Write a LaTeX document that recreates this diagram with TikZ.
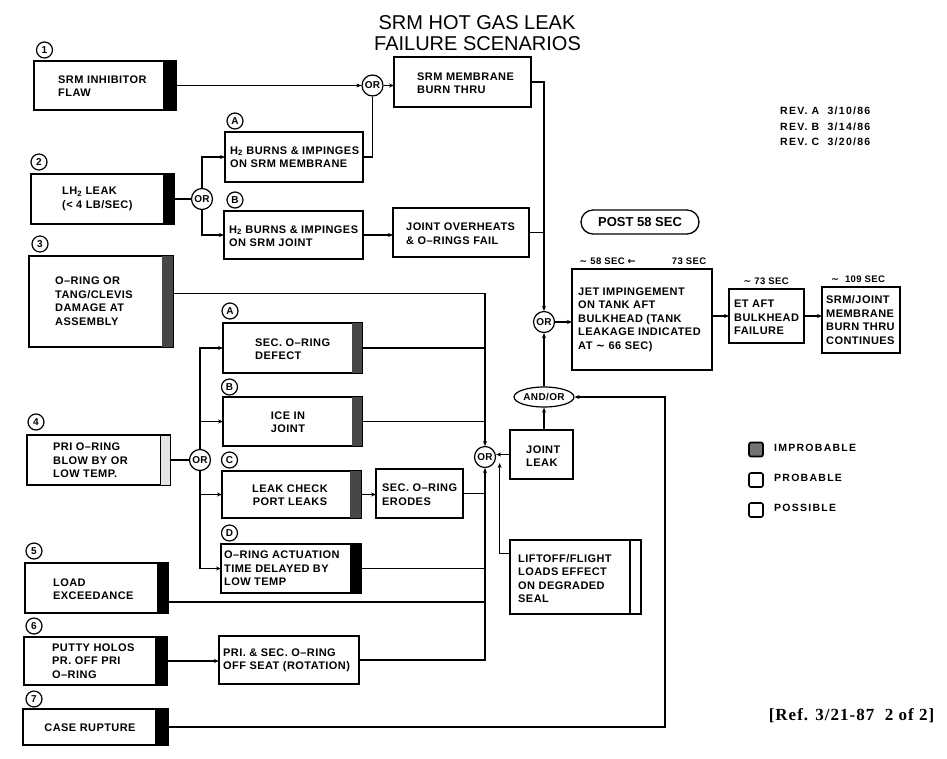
\documentclass[tikz,border=0pt]{standalone}
\usepackage{fontspec}
\setmainfont{Liberation Sans}
\newfontfamily\boxfont[LetterSpace=4,Ligatures=TeX]{Liberation Sans}
\newfontfamily\widefont[LetterSpace=12,Ligatures=TeX]{Liberation Sans}
\newfontfamily\reffont[LetterSpace=6,Ligatures=TeX]{Liberation Serif}
\newfontfamily\symfont{DejaVu Sans}
\newcommand\myapprox{{\symfont ∼}}
\usetikzlibrary{arrows.meta,shapes.geometric,calc,fit}
\begin{document}
\begin{tikzpicture}[x=1pt,y=-1pt,
  box/.style={draw, line width=1.3pt, inner sep=0pt, outer sep=0pt},
  blackbar/.style={fill=black},
  speckbar/.style={fill=black!72},
  lightbar/.style={draw, line width=1pt, fill=black!10},
  txt/.style={font=\boxfont\bfseries\fontsize{11}{13.5}\selectfont, align=left, inner sep=0pt, anchor=west},
  ctxt/.style={font=\boxfont\bfseries\fontsize{11}{13.5}\selectfont, align=center, inner sep=0pt},
  lab/.style={circle, draw, line width=1.2pt, inner sep=0pt, minimum size=16pt, font=\bfseries\fontsize{10}{10}\selectfont},
  gate/.style={circle, draw, line width=1.2pt, inner sep=0pt, minimum size=21pt, font=\boxfont\bfseries\fontsize{10}{10}\selectfont},
  conn/.style={line width=1.1pt},
  arr/.style={line width=1.1pt, -{Stealth[length=5pt,width=4pt]}},
  timelab/.style={font=\boxfont\bfseries\fontsize{9.5}{11}\selectfont, inner sep=0pt},
  legbox/.style={draw, line width=1.6pt, rounded corners=2pt, minimum size=14pt, inner sep=0pt},
  legtxt/.style={font=\widefont\bfseries\fontsize{10.5}{12}\selectfont, inner sep=0pt, anchor=west}
]
\useasboundingbox (0,0) rectangle (947,758);
\fill[white] (0,0) rectangle (947,758);

% title
\node[font=\fontsize{20}{24}\selectfont, inner sep=0pt] (title1) at (477,22.5) {SRM HOT GAS LEAK};
\node[font=\fontsize{20}{24}\selectfont, inner sep=0pt] (title2) at (477.5,43.5) {FAILURE SCENARIOS};

% revisions
\node[font=\widefont\bfseries\fontsize{10.5}{15.5}\selectfont, align=left, inner sep=0pt, anchor=west] (rev) at (780,126.5) {REV. A\ \ 3/10/86\\REV. B\ \ 3/14/86\\REV. C\ \ 3/20/86};

% boxes
\node[box, fit={(34,61) (176,110)}] (b1) {};
\node[box, fit={(225,132) (363,182)}] (bA1) {};
\node[box, fit={(394,57) (531,107)}] (bSMB) {};
\node[box, fit={(31,174) (174,224)}] (b2) {};
\node[box, fit={(224,211) (363,259)}] (bB1) {};
\node[box, fit={(393,208) (529,257)}] (bJO) {};
\node[box, fit={(29,256) (173,347)}] (b3) {};
\node[box, fit={(223,323) (362,373)}] (bSA) {};
\node[box, fit={(223,397) (362,446)}] (bIce) {};
\node[box, fit={(27,435) (170,485)}] (b4) {};
\node[box, fit={(222,471) (361,518)}] (bLC) {};
\node[box, fit={(376,469) (463,518)}] (bER) {};
\node[box, fit={(221,544) (361,593)}] (bD) {};
\node[box, fit={(25,563) (168,613)}] (b5) {};
\node[box, fit={(24,637) (167,685)}] (b6) {};
\node[box, fit={(219,636) (359,684)}] (bPS) {};
\node[box, fit={(23,709) (168,745)}] (b7) {};
\node[box, fit={(510,430) (573,479)}] (bJL) {};
\node[box, fit={(510,540) (641,614)}] (bLF) {};
\node[box, fit={(572,269) (712,370)}] (bJET) {};
\node[box, fit={(729,289) (804,343)}] (bET) {};
\node[box, fit={(822,287) (900,353)}] (bSJ) {};

% bars
\fill[blackbar] ($(b1.north east)+(-13,0)$) rectangle (b1.south east);
\fill[blackbar] ($(b2.north east)+(-11,0)$) rectangle (b2.south east);
\fill[speckbar] ($(b3.north east)+(-11,0)$) rectangle (b3.south east);
\fill[speckbar] ($(bSA.north east)+(-10,0)$) rectangle (bSA.south east);
\fill[speckbar] ($(bIce.north east)+(-10,0)$) rectangle (bIce.south east);
\fill[speckbar] ($(bLC.north east)+(-11,0)$) rectangle (bLC.south east);
\draw[lightbar] ($(b4.north east)+(-10,0)$) rectangle (b4.south east);
\fill[blackbar] ($(bD.north east)+(-11,0)$) rectangle (bD.south east);
\fill[blackbar] ($(b5.north east)+(-11,0)$) rectangle (b5.south east);
\fill[blackbar] ($(b6.north east)+(-12,0)$) rectangle (b6.south east);
\fill[blackbar] ($(b7.north east)+(-13,0)$) rectangle (b7.south east);
\draw[line width=1.3pt] ($(bLF.north east)+(-11,0)$) -- ($(bLF.south east)+(-11,0)$);

% box texts
\node[txt] (t1) at (58,86) {SRM INHIBITOR\\FLAW};
\node[txt] (tA1) at (230,157) {H\textsubscript{2} BURNS \& IMPINGES\\ON SRM MEMBRANE};
\node[txt] (tSMB) at (417,83) {SRM MEMBRANE\\BURN THRU};
\node[txt] (t2) at (62,199) {LH\textsubscript{2} LEAK\\(< 4 LB/SEC)};
\node[txt] (tB1) at (229,236) {H\textsubscript{2} BURNS \& IMPINGES\\ON SRM JOINT};
\node[txt] (tJO) at (406,233.5) {JOINT OVERHEATS\\\& O--RINGS FAIL};
\node[txt] (t3) at (55,301) {O--RING OR\\TANG/CLEVIS\\DAMAGE AT\\ASSEMBLY};
\node[txt] (tSA) at (255,349) {SEC. O--RING\\DEFECT};
\node[ctxt] (tIce) at (288,422) {ICE IN\\JOINT};
\node[txt] (t4) at (53,460.5) {PRI O--RING\\BLOW BY OR\\LOW TEMP.};
\node[ctxt] (tLC) at (290,495) {LEAK CHECK\\PORT LEAKS};
\node[txt] (tER) at (382,494.5) {SEC. O--RING\\ERODES};
\node[txt] (tD) at (224,568.5) {O--RING ACTUATION\\TIME DELAYED BY\\LOW TEMP};
\node[txt] (t5) at (53,589) {LOAD\\EXCEEDANCE};
\node[txt] (t6) at (52,661) {PUTTY HOLOS\\PR. OFF PRI\\O--RING};
\node[txt] (tPS) at (223,660.5) {PRI. \& SEC. O--RING\\OFF SEAT (ROTATION)};
\node[ctxt] (t7) at (90,728) {CASE RUPTURE};
\node[txt] (tJL) at (526,456) {JOINT\\LEAK};
\node[txt] (tLF) at (518,578.5) {LIFTOFF/FLIGHT\\LOADS EFFECT\\ON DEGRADED\\SEAL};
\node[txt] (tJET) at (578,319.5) {JET IMPINGEMENT\\ON TANK AFT\\BULKHEAD (TANK\\LEAKAGE INDICATED\\AT \myapprox\ 66 SEC)};
\node[txt] (tET) at (734,317.5) {ET AFT\\BULKHEAD\\FAILURE};
\node[txt] (tSJ) at (826,320) {SRM/JOINT\\MEMBRANE\\BURN THRU\\CONTINUES};

% post 58 sec
\node[draw, line width=1.3pt, rounded corners=12pt, minimum width=118pt, minimum height=24pt, inner sep=0pt, font=\bfseries\fontsize{13}{15}\selectfont] (post) at (640,222) {POST 58 SEC};

% time labels
\node[timelab] (tm1) at (607.5,261) {\myapprox\ 58 SEC {\symfont\bfseries ←}};
\node[timelab] (tm2) at (689,261) {73 SEC};
\node[timelab] (tm3) at (766,281) {\myapprox\ 73 SEC};
\node[timelab] (tm4) at (858,279) {\myapprox\ \ 109 SEC};

% circled labels
\node[lab] (n1) at (44.5,50) {1};
\node[lab] (n2) at (39,162) {2};
\node[lab] (n3) at (40,244) {3};
\node[lab] (n4) at (36,422) {4};
\node[lab] (n5) at (34,551) {5};
\node[lab] (n6) at (34,626) {6};
\node[lab] (n7) at (34,699) {7};
\node[lab] (nA1) at (235,121) {A};
\node[lab] (nB1) at (235,200) {B};
\node[lab] (nA2) at (230,311) {A};
\node[lab] (nB2) at (229.5,387) {B};
\node[lab] (nC) at (229.5,460) {C};
\node[lab] (nD) at (229.5,533) {D};

% gates
\node[gate] (or1) at (372.5,85.5) {OR};
\node[gate] (or2) at (202,199) {OR};
\node[gate] (or3) at (544,322) {OR};
\node[gate] (or4) at (485,457) {OR};
\node[gate] (or5) at (200,460) {OR};
\node[ellipse, draw, line width=1.2pt, inner sep=0pt, minimum width=60pt, minimum height=20pt, font=\boxfont\bfseries\fontsize{10}{10}\selectfont] (ao) at (544,397) {AND/OR};

% helper coordinates
\coordinate (b3o) at ($(b3.north east)!0.41!(b3.south east)$);
\coordinate (b5o) at ($(b5.north east)!0.78!(b5.south east)$);
\coordinate (lfo) at ($(bLF.north west)!0.18!(bLF.south west)$);
\coordinate (or4in) at ($(or4.east)+(3.5,6)$);
\coordinate (rt) at (665,397);

% connectors
\draw[arr] (b1.east) -- (or1.west);
\draw[arr] (or1.east) -- (or1.east -| bSMB.west);
\draw[conn] (bA1.east) -| (or1.south);
\draw[conn] (b2.east) -- (or2.west);
\draw[arr] (or2.north) |- (bA1.west);
\draw[arr] (or2.south) |- (bB1.west);
\draw[arr] (bB1.east) -- (bB1.east -| bJO.west);
\draw[arr] (bSMB.east) -| (or3.north);
\draw[conn] (bJO.east) -- (bJO.east -| or3);
\draw[arr] (or3.east) -- (or3.east -| bJET.west);
\draw[arr] (bJET.east |- bET.west) -- (bET.west);
\draw[arr] (bET.east) -- (bET.east -| bSJ.west);
\draw[arr] (ao.north) -- (or3.south);
\draw[arr] (bJL.north -| ao) -- (ao.south);
\draw[arr] (b7.east) -| (rt) -- (ao.east);
\draw[arr] (bJL.west) -- (bJL.west -| or4.east);
\draw[arr] (lfo) -| (or4in);
\draw[arr] (b3o) -| (or4.north);
\draw[conn] (bSA.east) -- (bSA.east -| or4);
\draw[conn] (bIce.east) -- (bIce.east -| or4);
\draw[arr] (bLC.east) -- (bLC.east -| bER.west);
\draw[conn] (bER.east) -- (bER.east -| or4);
\draw[conn] (bD.east) -- (bD.east -| or4);
\draw[conn] (b5o) -- (b5o -| or4);
\draw[arr] (bPS.east) -| (or4.south);
\draw[arr] (b6.east) -- (b6.east -| bPS.west);
\draw[conn] (b4.east) -- (or5.west);
\draw[arr] (or5.north) |- (bSA.west);
\draw[arr] (or5.north) |- (bIce.west);
\draw[arr] (or5.south) |- (bLC.west);
\draw[arr] (or5.south) |- (bD.west);

% legend
\node[legbox, fill=black!55] (lg1) at (756,449.5) {};
\node[legbox] (lg2) at (756,480) {};
\node[legbox] (lg3) at (756,510) {};
\node[legtxt] (lt1) at (774,448) {IMPROBABLE};
\node[legtxt] (lt2) at (774,478) {PROBABLE};
\node[legtxt] (lt3) at (774,508) {POSSIBLE};

% reference
\node[font=\reffont\bfseries\fontsize{17}{20}\selectfont, inner sep=0pt] (ref) at (851.5,716) {[Ref. 3/21-87\ \ 2 of 2]};
\end{tikzpicture}
\end{document}
